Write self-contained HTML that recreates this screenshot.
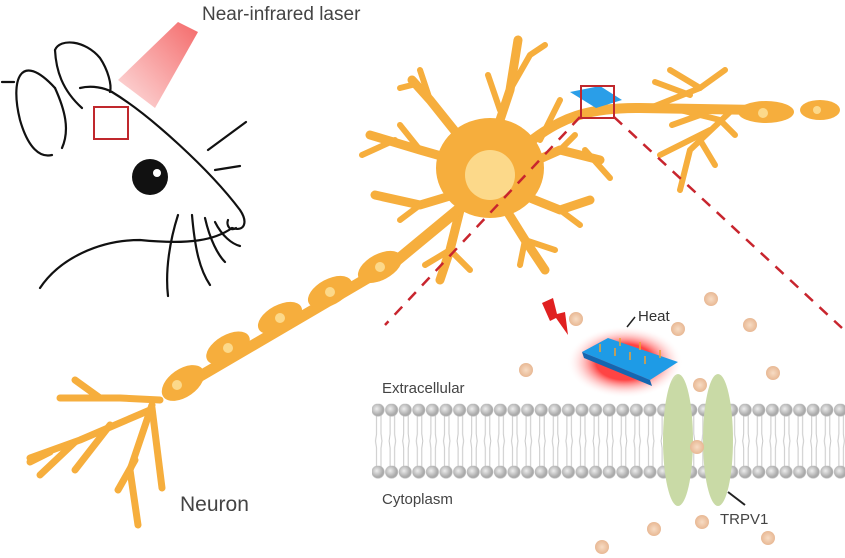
<!DOCTYPE html>
<html><head><meta charset="utf-8"><style>
html,body{margin:0;padding:0;background:#fff;}
svg{display:block;}
text{font-family:"Liberation Sans",sans-serif;}
</style></head><body>
<svg width="845" height="558" viewBox="0 0 845 558" xmlns="http://www.w3.org/2000/svg">
<defs>
<linearGradient id="laser" x1="1" y1="0" x2="0" y2="1">
<stop offset="0" stop-color="#f46a6a"/><stop offset="1" stop-color="#fde0e0"/></linearGradient>
<radialGradient id="glow"><stop offset="0.5" stop-color="#f44"/><stop offset="1" stop-color="#fff" stop-opacity="0"/></radialGradient>
<radialGradient id="ca"><stop offset="0" stop-color="#f7dcc4"/><stop offset="1" stop-color="#e8b894"/></radialGradient>
<radialGradient id="head" cx="0.4" cy="0.4"><stop offset="0" stop-color="#eee"/><stop offset="1" stop-color="#aaa"/></radialGradient>
<pattern id="lip" x="372" y="414" width="13.6" height="54" patternUnits="userSpaceOnUse">
<path d="M4.5,0 L4.5,20 L3.5,27 L4.5,34 L4.5,54 M9,0 L9,20 L10,27 L9,34 L9,54" stroke="#c8c8c8" stroke-width="1" fill="none"/>
</pattern>
<pattern id="hd" x="371.2" y="403.7" width="13.6" height="13" patternUnits="userSpaceOnUse">
<circle cx="6.8" cy="6.3" r="6.2" fill="url(#head)" stroke="#b5b5b5" stroke-width="0.6"/>
</pattern>
<pattern id="hd2" x="371.2" y="465.7" width="13.6" height="13" patternUnits="userSpaceOnUse">
<circle cx="6.8" cy="6.3" r="6.2" fill="url(#head)" stroke="#b5b5b5" stroke-width="0.6"/>
</pattern>
</defs>

<!-- laser -->
<polygon points="178,22 198,32 155,108 118,80" fill="url(#laser)"/>
<text x="202" y="20" font-size="19" fill="#444">Near-infrared laser</text>

<!-- mouse -->
<g fill="none" stroke="#111" stroke-width="2.2" stroke-linecap="round">
<path d="M2,82 L14,82"/>
<path d="M55,88 C20,50 10,80 20,120 C28,148 40,158 52,155"/>
<path d="M55,88 C65,110 70,130 62,148"/>
<path d="M55,50 C60,38 85,40 100,58 C108,70 112,85 110,92"/>
<path d="M55,50 C56,70 62,90 82,108"/>
<path d="M80,88 C92,85 105,88 112,92"/>
<path d="M112,92 C150,115 210,170 240,210 C248,222 245,232 232,228"/>
<path d="M232,228 C215,240 190,245 140,240 C100,240 60,258 40,288"/>
<path d="M208,150 L246,122"/><path d="M215,170 L240,166"/>
<path d="M178,215 C170,240 165,270 168,296"/>
<path d="M192,215 C195,250 200,270 210,285"/>
<path d="M205,218 C210,240 218,255 225,262"/>
<path d="M215,222 C222,236 232,244 240,246"/>
<path d="M228,220 C226,225 230,232 236,228"/>
</g>
<rect x="94" y="107" width="34" height="32" fill="none" stroke="#c0282d" stroke-width="2"/>
<circle cx="150" cy="177" r="18" fill="#111"/><circle cx="157" cy="173" r="4" fill="#fff"/>

<!-- neuron -->
<g fill="none" stroke="#f6ae3d" stroke-linecap="round" stroke-linejoin="round">
<g stroke-width="9">
<path d="M490,170 L420,150 L370,135"/><path d="M470,150 L430,100 L412,80"/>
<path d="M490,150 L510,90 L518,40"/><path d="M470,190 L420,205 L375,195"/>
<path d="M500,200 L525,240 L545,270"/><path d="M510,190 L560,210 L590,200"/>
<path d="M460,210 L450,250 L440,280"/><path d="M515,170 L560,150 L600,160"/>
</g>
<g stroke-width="6">
<path d="M420,150 L400,125"/><path d="M395,140 L362,155"/>
<path d="M430,100 L420,70"/><path d="M416,84 L400,88"/>
<path d="M510,90 L530,55 L545,45"/><path d="M500,110 L488,75"/>
<path d="M420,205 L400,220"/>
<path d="M525,240 L555,250"/><path d="M525,240 L520,265"/>
<path d="M560,210 L580,225"/>
<path d="M450,250 L470,270"/><path d="M450,250 L425,265"/>
<path d="M560,150 L575,135"/><path d="M585,150 L610,178"/>
<path d="M540,140 L560,100"/>
</g>
<path d="M520,150 C560,115 590,108 640,108 L760,110" stroke-width="10"/>
<g stroke-width="6">
<path d="M650,108 L700,88 L725,70"/><path d="M700,88 L670,70"/><path d="M690,95 L655,82"/>
<path d="M680,110 L720,120 L735,135"/><path d="M700,115 L672,125"/>
<path d="M730,112 L690,150 L680,190"/><path d="M700,140 L715,165"/><path d="M710,130 L660,155"/>
</g>
<path d="M470,200 L395,262 L185,385" stroke-width="11"/>
<g stroke-width="7">
<path d="M160,400 L120,398 L60,398"/><path d="M100,398 L75,380"/>
<path d="M150,410 L80,440 L30,458"/><path d="M75,442 L40,475"/><path d="M110,425 L75,470"/><path d="M50,452 L30,462"/>
<path d="M152,405 L130,470 L138,525"/><path d="M135,460 L118,490"/>
<path d="M152,408 L162,488"/>
</g>
</g>
<g fill="#f6ae3d">
<ellipse cx="490" cy="168" rx="54" ry="50"/>
<ellipse cx="766" cy="112" rx="28" ry="11"/><ellipse cx="820" cy="110" rx="20" ry="10"/>
<g transform="rotate(-28 380 267)"><ellipse cx="380" cy="267" rx="24" ry="13"/></g>
<g transform="rotate(-28 330 292)"><ellipse cx="330" cy="292" rx="24" ry="13"/></g>
<g transform="rotate(-28 280 318)"><ellipse cx="280" cy="318" rx="24" ry="13"/></g>
<g transform="rotate(-30 228 348)"><ellipse cx="228" cy="348" rx="24" ry="13"/></g>
<g transform="rotate(-35 183 383)"><ellipse cx="183" cy="383" rx="24" ry="14"/></g>
</g>
<g fill="#fcd98a">
<circle cx="490" cy="175" r="25"/>
<circle cx="763" cy="113" r="5"/><circle cx="817" cy="110" r="4"/>
<circle cx="380" cy="267" r="5"/><circle cx="330" cy="292" r="5"/><circle cx="280" cy="318" r="5"/><circle cx="228" cy="348" r="5"/><circle cx="177" cy="385" r="5"/>
</g>
<text x="180" y="511" font-size="21" fill="#444">Neuron</text>

<polygon points="570,92 600,86 622,100 596,108" fill="#2a9ee8"/>
<rect x="581" y="86" width="33" height="32" fill="none" stroke="#c0282d" stroke-width="2"/>

<g stroke="#c8252e" stroke-width="2.5" stroke-dasharray="11 9" fill="none">
<line x1="580" y1="117" x2="385" y2="325"/>
<line x1="614" y1="117" x2="842" y2="328"/>
</g>

<!-- membrane -->
<rect x="372" y="414" width="473" height="54" fill="url(#lip)"/>
<rect x="372" y="403.7" width="473" height="13" fill="url(#hd)"/>
<rect x="372" y="465.7" width="473" height="13" fill="url(#hd2)"/>

<ellipse cx="678" cy="440" rx="15" ry="66" fill="#c9daa6"/>
<ellipse cx="718" cy="440" rx="15" ry="66" fill="#c9daa6"/>
<line x1="728" y1="492" x2="745" y2="505" stroke="#222" stroke-width="2"/>
<text x="720" y="524" font-size="15" fill="#444">TRPV1</text>

<text x="382" y="393" font-size="15" fill="#444">Extracellular</text>
<text x="382" y="504" font-size="15" fill="#444">Cytoplasm</text>

<ellipse cx="625" cy="362" rx="58" ry="36" fill="url(#glow)"/>
<polygon points="582,352 608,338 678,362 650,380" fill="#1e9be6"/>
<polygon points="582,352 650,380 652,386 584,358" fill="#1566b0"/>
<g stroke="#f0a030" stroke-width="1.5">
<line x1="600" y1="352" x2="600" y2="344"/><line x1="615" y1="356" x2="615" y2="348"/><line x1="630" y1="360" x2="630" y2="352"/><line x1="645" y1="364" x2="645" y2="356"/><line x1="620" y1="346" x2="620" y2="338"/><line x1="640" y1="350" x2="640" y2="342"/><line x1="660" y1="358" x2="660" y2="350"/>
</g>
<line x1="627" y1="327" x2="635" y2="317" stroke="#222" stroke-width="1.5"/>
<text x="638" y="321" font-size="15" fill="#333">Heat</text>
<polygon points="542,303 553,298 557,314 565,312 568,335 556,318 550,321" fill="#e02020"/>

<g fill="url(#ca)">
<circle cx="576" cy="319" r="7"/><circle cx="711" cy="299" r="7"/><circle cx="678" cy="329" r="7"/><circle cx="750" cy="325" r="7"/>
<circle cx="526" cy="370" r="7"/><circle cx="773" cy="373" r="7"/><circle cx="700" cy="385" r="7"/>
<circle cx="697" cy="447" r="7"/><circle cx="702" cy="522" r="7"/><circle cx="654" cy="529" r="7"/><circle cx="768" cy="538" r="7"/><circle cx="602" cy="547" r="7"/>
</g>
</svg>
</body></html>
